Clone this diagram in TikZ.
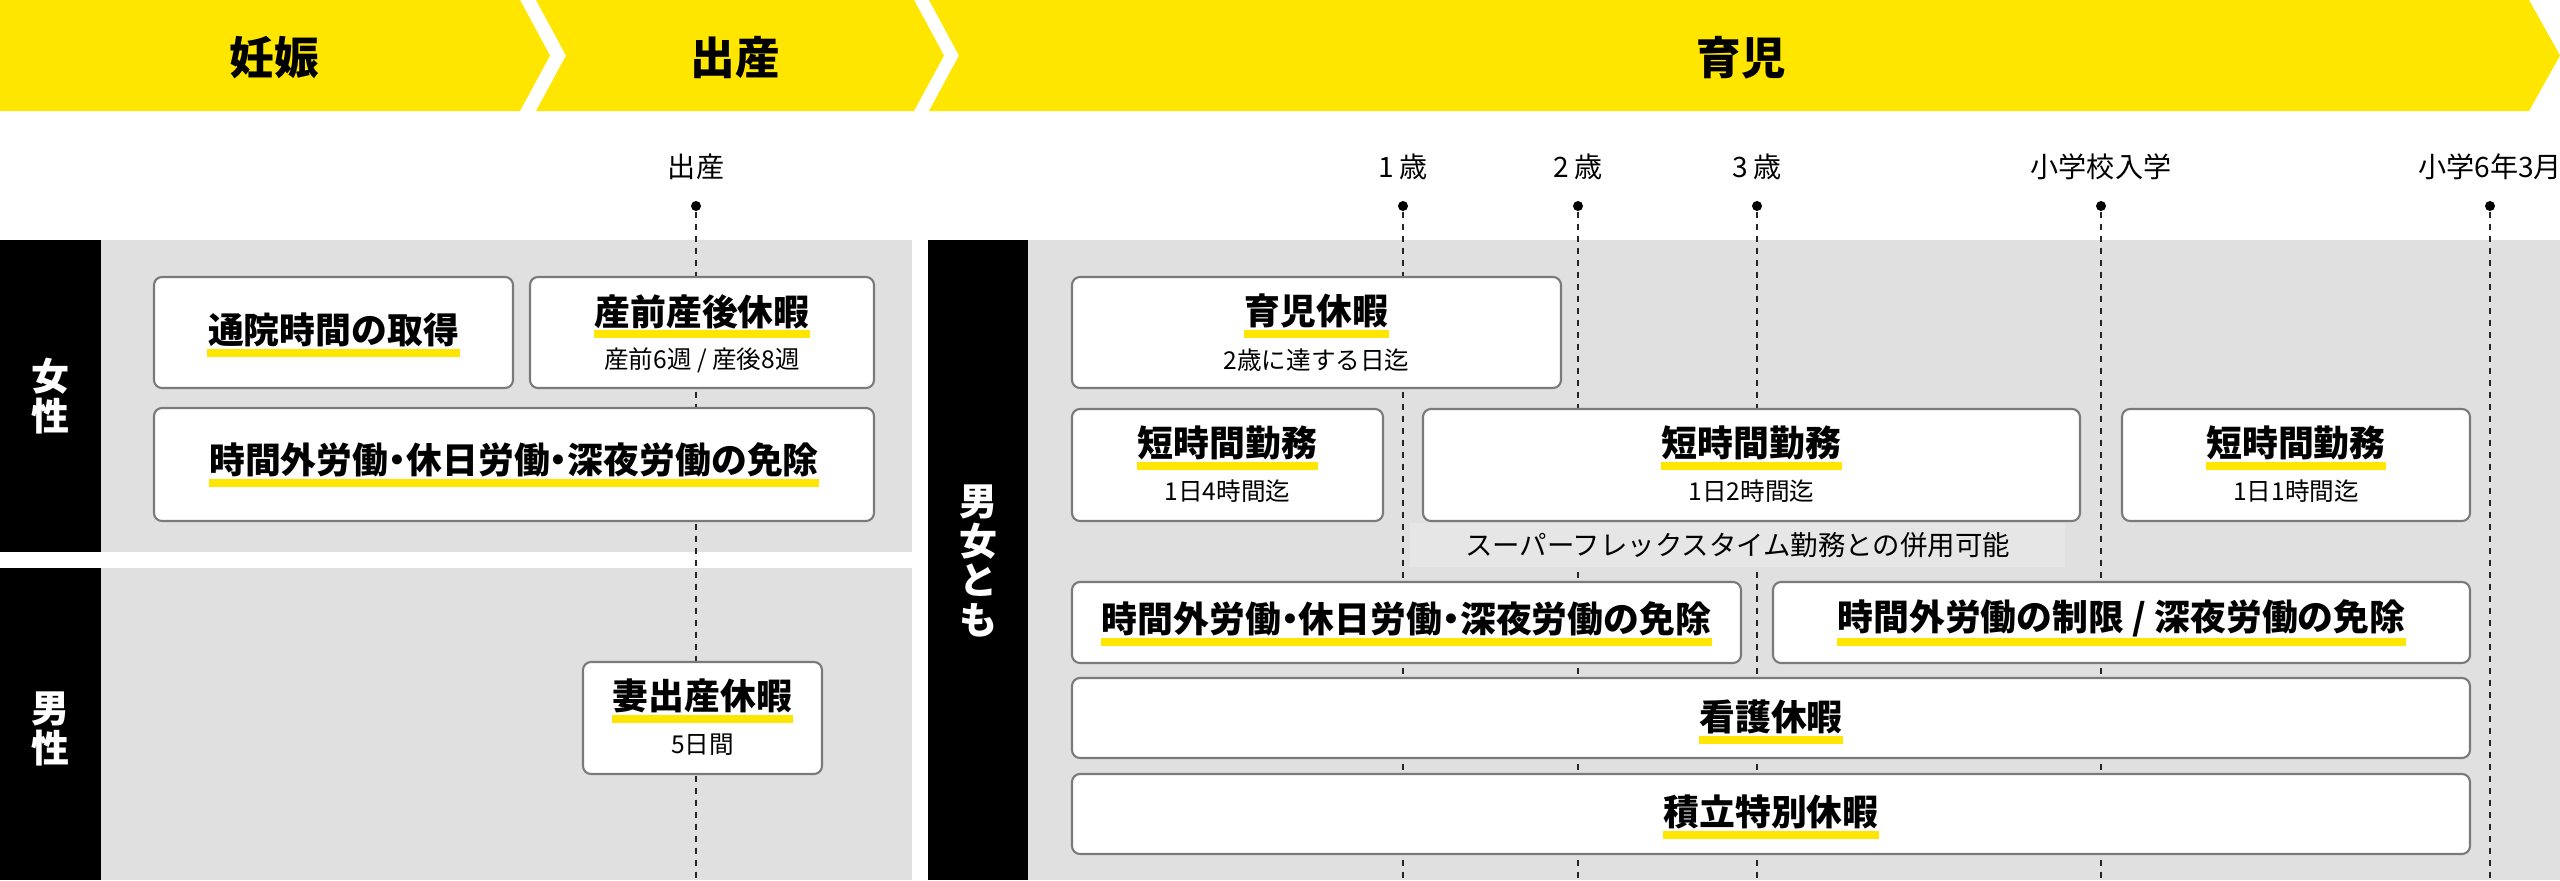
\documentclass[tikz,border=0pt]{standalone}
\usepackage{fontspec}
\setmainfont{Noto Sans CJK JP}
\usetikzlibrary{positioning}
\definecolor{ylw}{HTML}{FFE600}
\definecolor{panelgray}{HTML}{E0E0E0}
\definecolor{flexgray}{HTML}{E6E6E6}
\definecolor{edgegray}{HTML}{7A7A7A}
\newcommand{\halfdot}{\makebox[0.5em][c]{・}}
\begin{document}
\begin{tikzpicture}[
  phase/.style={font=\fontsize{12.7pt}{14pt}\selectfont\bfseries},
  lane/.style={text=white,align=center,font=\fontsize{10.8pt}{11.2pt}\selectfont\bfseries},
  milestone/.style={font=\fontsize{8pt}{9pt}\selectfont},
  dot/.style={circle,fill=black,inner sep=0pt,minimum size=0.1cm},
  guide/.style={black!85,line width=0.5pt,dash pattern=on 0.06cm off 0.06cm},
  card/.style={draw=edgegray,line width=0.6pt,fill=white,rounded corners=0.08cm,inner sep=0pt},
  ttl/.style={font=\fontsize{10.2pt}{12pt}\selectfont\bfseries,inner sep=0pt},
  subttl/.style={font=\fontsize{7pt}{8pt}\selectfont,inner sep=0pt}
]
\useasboundingbox (0,0) rectangle (25.6,-8.8);

% Phases
\fill[ylw] (0,0) -- (5.20,0) -- (5.50,-0.555) -- (5.20,-1.11) -- (0,-1.11) -- cycle;
\fill[ylw] (5.36,0) -- (9.14,0) -- (9.44,-0.555) -- (9.14,-1.11) -- (5.36,-1.11) -- (5.66,-0.555) -- cycle;
\fill[ylw] (9.29,0) -- (25.29,0) -- (25.6,-0.555) -- (25.29,-1.11) -- (9.29,-1.11) -- (9.59,-0.555) -- cycle;
\node[phase] (p1) at (2.74,-0.58) {妊娠};
\node[phase] (p2) at (7.35,-0.58) {出産};
\node[phase] (p3) at (17.41,-0.58) {育児};

% Lanes
\fill[black] (0,-2.40) rectangle (1.01,-5.52);
\fill[panelgray] (1.01,-2.40) rectangle (9.12,-5.52);
\fill[black] (0,-5.68) rectangle (1.01,-8.8);
\fill[panelgray] (1.01,-5.68) rectangle (9.12,-8.8);
\fill[black] (9.28,-2.40) rectangle (10.28,-8.8);
\fill[panelgray] (10.28,-2.40) rectangle (25.6,-8.8);
\node[lane] (women) at (0.505,-3.96) {女\\性};
\node[lane] (men) at (0.505,-7.29) {男\\性};
\node[lane] (both) at (9.78,-5.61) {男\\女\\と\\も};

% Milestones
\foreach \x/\lbl/\n in {6.96/出産/m0, 14.03/1 歳/m1, 15.78/2 歳/m2, 17.57/3 歳/m3, 21.01/小学校入学/m4, 24.90/小学6年3月/m5} {
  \node[milestone] (l\n) at (\x,-1.67) {\lbl};
  \node[dot] (\n) at (\x,-2.06) {};
  \coordinate (\n b) at (\x,-8.8);
  \draw[guide] (\n) -- (\n b);
}

% Women
\node[card,minimum width=3.59cm,minimum height=1.11cm] (A) at (3.335,-3.325) {};
\node[ttl] (tA) at ([yshift=0.03cm]A.center) {通院時間の取得};
\node[card,minimum width=3.44cm,minimum height=1.11cm] (B) at (7.02,-3.325) {};
\node[ttl] (tB) at ([yshift=-0.355cm]B.north) {産前産後休暇};
\node[subttl] (sB) at ([yshift=-0.84cm]B.north) {産前6週 / 産後8週};
\node[card,minimum width=7.20cm,minimum height=1.13cm] (C) at (5.14,-4.645) {};
\node[ttl] (tC) at ([yshift=0.05cm]C.center) {時間外労働\halfdot 休日労働\halfdot 深夜労働の免除};

% Men
\node[card,minimum width=2.39cm,minimum height=1.12cm] (D) at (7.025,-7.18) {};
\node[ttl] (tD) at ([yshift=-0.35cm]D.north) {妻出産休暇};
\node[subttl] (sD) at ([yshift=-0.84cm]D.north) {5日間};

% Both
\node[card,minimum width=4.89cm,minimum height=1.11cm] (E) at (13.165,-3.325) {};
\node[ttl] (tE) at ([yshift=-0.355cm]E.north) {育児休暇};
\node[subttl] (sE) at ([yshift=-0.84cm]E.north) {2歳に達する日迄};
\node[card,minimum width=3.11cm,minimum height=1.12cm] (F) at (12.275,-4.65) {};
\node[ttl] (tF) at ([yshift=-0.35cm]F.north) {短時間勤務};
\node[subttl] (sF) at ([yshift=-0.83cm]F.north) {1日4時間迄};
\node[card,minimum width=6.57cm,minimum height=1.12cm] (G) at (17.515,-4.65) {};
\node[ttl] (tG) at ([yshift=-0.35cm]G.north) {短時間勤務};
\node[subttl] (sG) at ([yshift=-0.83cm]G.north) {1日2時間迄};
\node[card,minimum width=3.48cm,minimum height=1.12cm] (H) at (22.96,-4.65) {};
\node[ttl] (tH) at ([yshift=-0.35cm]H.north) {短時間勤務};
\node[subttl] (sH) at ([yshift=-0.83cm]H.north) {1日1時間迄};
\node[fill=flexgray,minimum width=6.55cm,minimum height=0.44cm,inner sep=0pt,font=\fontsize{7.8pt}{9pt}\selectfont] (flex) at (17.375,-5.45) {スーパーフレックスタイム勤務との併用可能};
\node[card,minimum width=6.69cm,minimum height=0.81cm] (I) at (14.065,-6.225) {};
\node[ttl] (tI) at ([yshift=0.04cm]I.center) {時間外労働\halfdot 休日労働\halfdot 深夜労働の免除};
\node[card,minimum width=6.97cm,minimum height=0.81cm] (J) at (21.215,-6.225) {};
\node[ttl] (tJ) at ([yshift=0.04cm]J.center) {時間外労働の制限 / 深夜労働の免除};
\node[card,minimum width=13.98cm,minimum height=0.80cm] (K) at (17.71,-7.18) {};
\node[ttl] (tK) at ([yshift=0.01cm]K.center) {看護休暇};
\node[card,minimum width=13.98cm,minimum height=0.80cm] (L) at (17.71,-8.14) {};
\node[ttl] (tL) at ([yshift=0.02cm]L.center) {積立特別休暇};

% Underlines
\foreach \t in {tA,tB,tC,tD,tE,tF,tG,tH,tI,tJ,tK,tL}
  \fill[ylw] ([yshift=-0.19cm]\t.west) rectangle ([yshift=-0.27cm]\t.east);

\end{tikzpicture}
\end{document}
